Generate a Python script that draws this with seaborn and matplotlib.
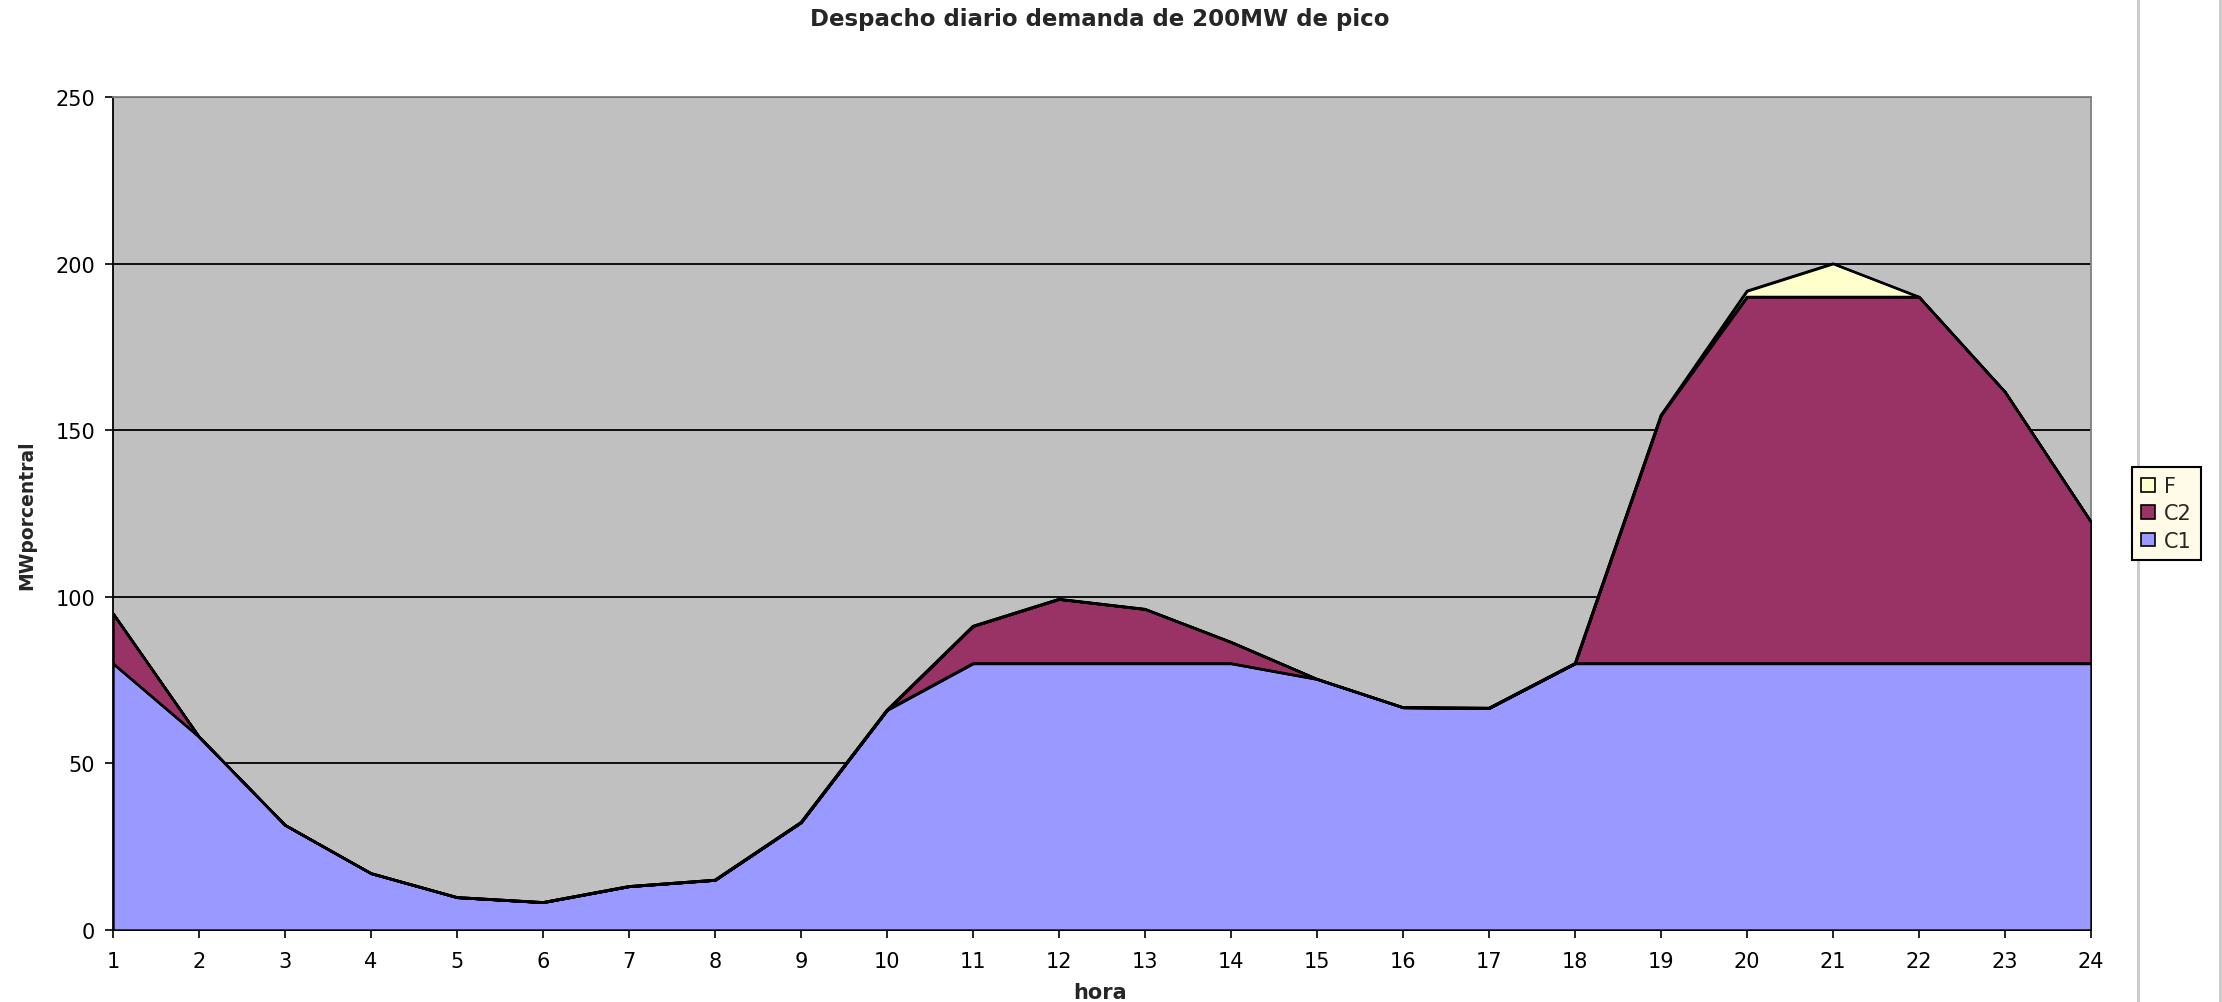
import numpy as np
import pandas as pd
import matplotlib
matplotlib.use("Agg")
import matplotlib.pyplot as plt
import seaborn as sns
from matplotlib.patches import Patch
from matplotlib.lines import Line2D

# datos (MW por central, por hora)
hora = list(range(1, 25))
c1 = [80, 58, 31.5, 17, 9.8, 8.3, 13.1, 15, 32.3, 66, 80, 80,
      80, 80, 75.3, 66.8, 66.6, 80, 80, 80, 80, 80, 80, 80]
c2 = [15, 0, 0, 0, 0, 0, 0, 0, 0, 0, 11.2, 19.3,
      16.3, 6.4, 0, 0, 0, 0, 74.5, 110, 110, 110, 81.5, 42.5]
f = [0, 0, 0, 0, 0, 0, 0, 0, 0, 0, 0, 0,
     0, 0, 0, 0, 0, 0, 0, 1.8, 10, 0, 0, 0]

series = ["C1", "C2", "F"]
colores = {"C1": "#9999FF", "C2": "#993366", "F": "#FFFFCC"}
yticks = [0, 50, 100, 150, 200, 250]
titulo = "Despacho diario demanda de 200MW de pico"

sns.set_style("white")
plt.rcParams["font.family"] = ["DejaVu Sans"]

fig = plt.figure(figsize=(22.22, 10.03), dpi=100)
ax = fig.add_axes([113 / 2222, 1 - 931 / 1003, 1978 / 2222, 833 / 1003])
ax.set_facecolor("#C0C0C0")

# areas apiladas
base = np.zeros(len(hora))
filas = []
for name, vals in zip(series, [c1, c2, f]):
    top = base + np.array(vals, dtype=float)
    ax.fill_between(hora, base, top, facecolor=colores[name],
                    edgecolor="black", linewidth=1.7, zorder=3)
    filas.append(pd.DataFrame({"hora": hora, "nivel": top, "serie": name}))
    base = top

df = pd.concat(filas, ignore_index=True)
sns.lineplot(data=df, x="hora", y="nivel", units="serie", estimator=None,
             color="black", linewidth=1.7, ax=ax, zorder=4, legend=False)

ax.set_xlim(1, 24)
ax.set_ylim(0, 250)
ax.set_xticks(hora)
ax.set_yticks(yticks)
ax.yaxis.grid(True, color="black", linewidth=1.3)
ax.xaxis.grid(False)
ax.set_axisbelow(True)

for side in ["left", "bottom"]:
    ax.spines[side].set_color("black")
    ax.spines[side].set_linewidth(1.3)
for side in ["top", "right"]:
    ax.spines[side].set_color("#808080")
    ax.spines[side].set_linewidth(1.3)

ax.tick_params(axis="both", direction="out", length=6, width=1.2,
               colors="black", labelsize=15, bottom=True, left=True)
ax.tick_params(axis="x", pad=9)
ax.tick_params(axis="y", pad=7)
ax.set_xlabel("")
ax.set_ylabel("")

fig.text(0.495, 0.981, titulo, ha="center", va="center",
         fontsize=16.5, fontweight="bold")
fig.text(0.495, 0.0035, "hora", ha="center", va="baseline",
         fontsize=15, fontweight="bold")
fig.text(27 / 2222, 1 - 515 / 1003, "MWporcentral", rotation=90,
         ha="center", va="center", fontsize=13.5, fontweight="bold")

# lineas grises del panel derecho
for xf in [2138 / 2222, 2220 / 2222]:
    fig.add_artist(Line2D([xf, xf], [0, 1], transform=fig.transFigure,
                          color="#c8c8c8", linewidth=2))

handles = [Patch(facecolor=colores[s], edgecolor="black", linewidth=1.2)
           for s in ["F", "C2", "C1"]]
leg = fig.legend(handles, ["F", "C2", "C1"], loc="center left",
                 bbox_to_anchor=(2132 / 2222, 1 - 514.5 / 1003),
                 fontsize=15, frameon=True, fancybox=False, framealpha=1,
                 facecolor="#fffbe6", edgecolor="black", borderpad=0.45,
                 labelspacing=0.35, handlelength=0.65, handleheight=0.65,
                 handletextpad=0.45, borderaxespad=0)
leg.get_frame().set_linewidth(1.5)

fig.savefig("out.png", dpi=100)
